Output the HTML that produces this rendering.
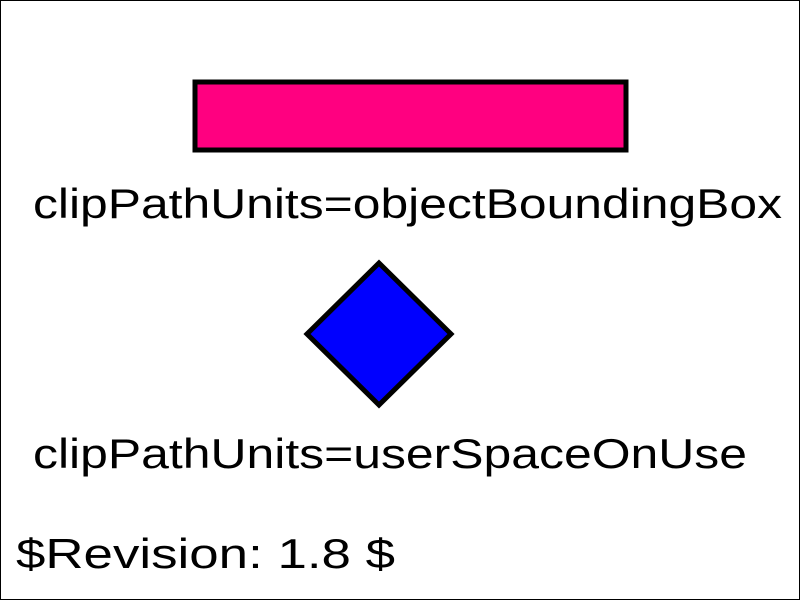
<!DOCTYPE html>
<html><head><meta charset="utf-8"><style>html,body{margin:0;padding:0;background:#fff}svg{display:block}</style></head>
<body>
<svg width="800" height="600" viewBox="0 0 800 600" xmlns="http://www.w3.org/2000/svg">
<rect x="0.5" y="0.5" width="799" height="599" fill="#fff" stroke="#000" stroke-width="1"/>
<rect x="195" y="82" width="431" height="68" fill="#ff0080" stroke="#000" stroke-width="5"/>
<polygon points="379,263 451,334 379,405 307,334" fill="#0000ff" stroke="#000" stroke-width="5"/>
<g font-family="Liberation Sans, Arial, sans-serif" font-size="42" fill="#000">
<text x="33" y="218" textLength="749" lengthAdjust="spacingAndGlyphs">clipPathUnits=objectBoundingBox</text>
<text x="33" y="468" textLength="714" lengthAdjust="spacingAndGlyphs">clipPathUnits=userSpaceOnUse</text>
<text x="16" y="568" textLength="379" lengthAdjust="spacingAndGlyphs">$Revision: 1.8 $</text>
</g>
</svg>
</body></html>
